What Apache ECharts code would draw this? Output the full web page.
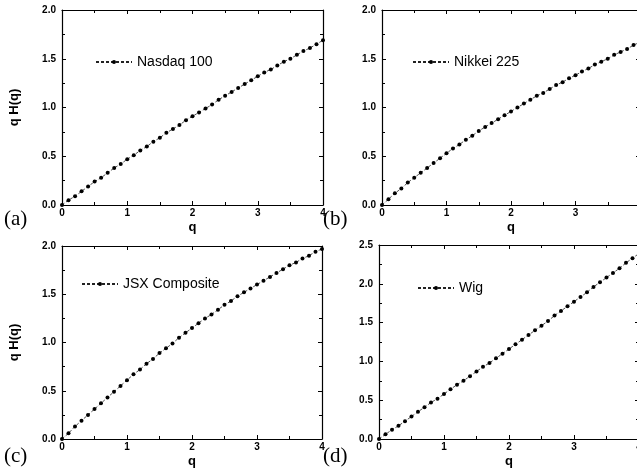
<!DOCTYPE html>
<html>
<head>
<meta charset="utf-8">
<script src="https://cdn.jsdelivr.net/npm/echarts@6/dist/echarts.min.js"></script>
<style>
  html, body { margin: 0; padding: 0; background: #fff; }
  #main { width: 637px; height: 474px; }
</style>
</head>
<body>
<div id="main"></div>
<script>
var qValues = [0, 0.1, 0.2, 0.3, 0.4, 0.5, 0.6, 0.7, 0.8, 0.9, 1.0,
  1.1, 1.2, 1.3, 1.4, 1.5, 1.6, 1.7, 1.8, 1.9, 2.0,
  2.1, 2.2, 2.3, 2.4, 2.5, 2.6, 2.7, 2.8, 2.9, 3.0,
  3.1, 3.2, 3.3, 3.4, 3.5, 3.6, 3.7, 3.8, 3.9, 4.0];

var nasdaq = [0, 0.05, 0.09, 0.14, 0.19, 0.24, 0.28, 0.33, 0.38, 0.42, 0.47,
  0.51, 0.56, 0.60, 0.65, 0.69, 0.74, 0.78, 0.82, 0.87, 0.91,
  0.95, 0.99, 1.03, 1.08, 1.12, 1.16, 1.20, 1.24, 1.28, 1.32,
  1.36, 1.39, 1.43, 1.47, 1.50, 1.54, 1.58, 1.61, 1.65, 1.69];

var nikkei = [0, 0.06, 0.12, 0.17, 0.23, 0.28, 0.33, 0.38, 0.43, 0.48, 0.53,
  0.58, 0.62, 0.67, 0.71, 0.76, 0.80, 0.84, 0.88, 0.92, 0.96,
  1.00, 1.04, 1.08, 1.12, 1.15, 1.19, 1.23, 1.26, 1.30, 1.33,
  1.37, 1.40, 1.44, 1.47, 1.50, 1.54, 1.57, 1.60, 1.64, 1.67];

var jsx = [0, 0.06, 0.13, 0.19, 0.25, 0.31, 0.37, 0.43, 0.49, 0.55, 0.61,
  0.67, 0.72, 0.78, 0.83, 0.89, 0.94, 0.99, 1.05, 1.10, 1.15,
  1.20, 1.25, 1.29, 1.34, 1.39, 1.43, 1.48, 1.52, 1.56, 1.60,
  1.64, 1.68, 1.72, 1.76, 1.80, 1.83, 1.87, 1.90, 1.94, 1.97];

var wig = [0, 0.06, 0.12, 0.17, 0.23, 0.29, 0.35, 0.41, 0.47, 0.52, 0.58,
  0.64, 0.70, 0.75, 0.81, 0.87, 0.93, 0.98, 1.04, 1.10, 1.16,
  1.22, 1.28, 1.34, 1.40, 1.46, 1.52, 1.59, 1.65, 1.71, 1.77,
  1.83, 1.89, 1.96, 2.02, 2.08, 2.14, 2.20, 2.27, 2.33, 2.39];

var seriesNames = ['Nasdaq 100', 'Nikkei 225', 'JSX Composite', 'Wig'];
var seriesData = [nasdaq, nikkei, jsx, wig];
var yMax = [2, 2, 2, 2.5];
var panelLabels = ['(a)', '(b)', '(c)', '(d)'];

var chartDom = document.getElementById('main');
var myChart = echarts.init(chartDom, null, { renderer: 'canvas' });

var grids = [
  { left: 62, top: 10, width: 261, height: 195, outerBoundsMode: 'none' },
  { left: 382, top: 10, width: 258, height: 195, outerBoundsMode: 'none' },
  { left: 62, top: 246, width: 260, height: 193, outerBoundsMode: 'none' },
  { left: 379, top: 245, width: 260, height: 194, outerBoundsMode: 'none' }
];
var legendPos = [
  { left: 90, top: 50 },
  { left: 407, top: 50 },
  { left: 76, top: 272 },
  { left: 412, top: 276 }
];
var labelPos = [
  { left: 4, top: 209 },
  { left: 323, top: 209 },
  { left: 4, top: 446 },
  { left: 323, top: 446 }
];

var tickFont = { fontFamily: 'Liberation Sans', fontWeight: 'bold', fontSize: 10, color: '#000' };
var lineStyleAxis = { color: '#000', width: 1.2 };

function frameAxis(extra) {
  return Object.assign({
    type: 'value',
    axisLine: { show: true, onZero: false, lineStyle: lineStyleAxis },
    axisTick: { show: true, inside: true, length: 4, lineStyle: { color: '#000' } },
    minorTick: { show: true, splitNumber: 2, length: 3, lineStyle: { color: '#000' } },
    splitLine: { show: false }
  }, extra);
}

var xAxes = [], yAxes = [], series = [], legends = [], titles = [];
for (var i = 0; i < 4; i++) {
  var pairs = qValues.map(function (q, k) { return [q, seriesData[i][k]]; });
  xAxes.push(frameAxis({
    gridIndex: i, min: 0, max: 4, interval: 1, position: 'bottom',
    name: 'q', nameLocation: 'middle', nameGap: 16,
    nameTextStyle: { fontFamily: 'Liberation Sans', fontWeight: 'bold', fontSize: 13, color: '#000' },
    axisLabel: Object.assign({ margin: 3 }, tickFont)
  }));
  xAxes.push(frameAxis({
    gridIndex: i, min: 0, max: 4, interval: 1, position: 'top',
    axisLabel: { show: false }
  }));
  yAxes.push(frameAxis({
    gridIndex: i, min: 0, max: yMax[i], interval: 0.5, position: 'left',
    name: (i === 0 || i === 2) ? 'q H(q)' : '', nameLocation: 'middle', nameGap: 41,
    nameTextStyle: { fontFamily: 'Liberation Sans', fontWeight: 'bold', fontSize: 13, color: '#000' },
    axisLabel: Object.assign({ margin: 6, formatter: function (v) { return v.toFixed(1); } }, tickFont)
  }));
  yAxes.push(frameAxis({
    gridIndex: i, min: 0, max: yMax[i], interval: 0.5, position: 'right',
    axisLabel: { show: false }
  }));
  series.push({
    name: seriesNames[i], type: 'line',
    xAxisIndex: i * 2, yAxisIndex: i * 2,
    data: pairs,
    symbol: 'circle', symbolSize: 4,
    itemStyle: { color: '#000' },
    lineStyle: { color: '#222', width: 0.8, type: [3, 2] },
    clip: false,
    animation: false
  });
  legends.push({
    data: [seriesNames[i]],
    left: legendPos[i].left, top: legendPos[i].top,
    itemWidth: 36, itemHeight: 5, itemGap: 0,
    textStyle: { fontFamily: 'Liberation Sans', fontSize: 14, color: '#000' },
    selectedMode: false
  });
  titles.push({
    text: panelLabels[i],
    left: labelPos[i].left, top: labelPos[i].top, padding: 0,
    textStyle: { fontFamily: 'Liberation Serif', fontWeight: 'normal', fontSize: 21, color: '#000' }
  });
}

var option = {
  backgroundColor: '#fff',
  animation: false,
  title: titles,
  legend: legends,
  grid: grids,
  xAxis: xAxes,
  yAxis: yAxes,
  series: series
};

myChart.setOption(option);
</script>
</body>
</html>
